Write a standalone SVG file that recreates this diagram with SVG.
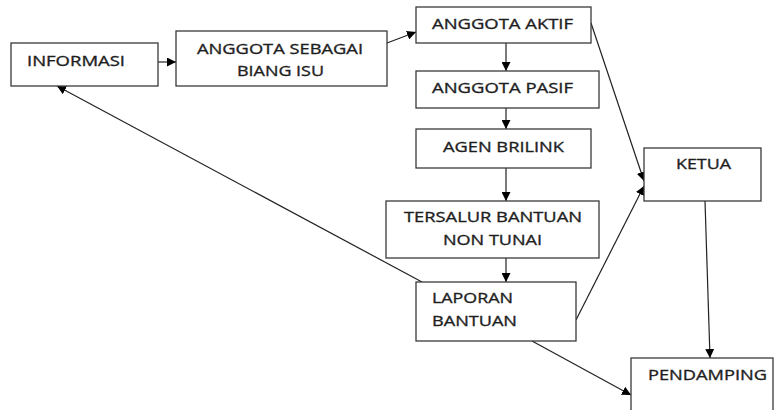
<svg xmlns="http://www.w3.org/2000/svg" width="777" height="410" viewBox="0 0 777 410">
<defs>
<marker id="ah" viewBox="0 0 10 10" refX="10" refY="5" markerWidth="9" markerHeight="9" markerUnits="userSpaceOnUse" orient="auto">
<path d="M0,0 L10,5 L0,10 z" fill="#000"/>
</marker>
</defs>
<style>
rect{fill:#fff;stroke:#3a3a3a;stroke-width:1.3}
text{font-family:"Open Sans","Liberation Sans",sans-serif;font-size:15px;fill:#1e1e1e;stroke:#1e1e1e;stroke-width:0.35}
#edges line{stroke:#222;stroke-width:1.2;marker-end:url(#ah)}
</style>
<rect x="0" y="0" width="777" height="410" style="fill:#fff;stroke:none"/>
<g id="edges">
<line x1="158" y1="62" x2="176" y2="62"/>
<line x1="387" y1="43" x2="416" y2="32"/>
<line x1="506" y1="43" x2="506" y2="71"/>
<line x1="506" y1="108" x2="506" y2="129"/>
<line x1="506" y1="168" x2="506" y2="201"/>
<line x1="506" y1="258" x2="506" y2="282"/>
<line x1="591" y1="23" x2="644" y2="181"/>
<line x1="576" y1="320" x2="644" y2="186"/>
<line x1="705" y1="201" x2="710" y2="358"/>
<line x1="532" y1="341" x2="631" y2="395"/>
<line x1="422" y1="282" x2="57" y2="86"/>
</g>
<g id="informasi"><rect x="11" y="43" width="147" height="43"/><text x="27" y="66" textLength="98" lengthAdjust="spacingAndGlyphs">INFORMASI</text></g>
<g id="anggota-sebagai"><rect x="176" y="31" width="211" height="55"/><text x="197" y="54" textLength="166" lengthAdjust="spacingAndGlyphs">ANGGOTA SEBAGAI</text><text x="237" y="76" textLength="87" lengthAdjust="spacingAndGlyphs">BIANG ISU</text></g>
<g id="anggota-aktif"><rect x="416" y="7" width="175" height="36"/><text x="432" y="29" textLength="141" lengthAdjust="spacingAndGlyphs">ANGGOTA AKTIF</text></g>
<g id="anggota-pasif"><rect x="416" y="71" width="183" height="37"/><text x="432" y="93" textLength="141" lengthAdjust="spacingAndGlyphs">ANGGOTA PASIF</text></g>
<g id="agen-brilink"><rect x="416" y="129" width="175" height="39"/><text x="443" y="152" textLength="121" lengthAdjust="spacingAndGlyphs">AGEN BRILINK</text></g>
<g id="tersalur"><rect x="386" y="201" width="213" height="57"/><text x="404" y="222" textLength="178" lengthAdjust="spacingAndGlyphs">TERSALUR BANTUAN</text><text x="443" y="245" textLength="99" lengthAdjust="spacingAndGlyphs">NON TUNAI</text></g>
<g id="laporan"><rect x="416" y="282" width="160" height="59"/><text x="432" y="303" textLength="81" lengthAdjust="spacingAndGlyphs">LAPORAN</text><text x="432" y="326" textLength="85" lengthAdjust="spacingAndGlyphs">BANTUAN</text></g>
<g id="ketua"><rect x="644" y="148" width="117" height="53"/><text x="676" y="169" textLength="55" lengthAdjust="spacingAndGlyphs">KETUA</text></g>
<g id="pendamping"><rect x="631" y="358" width="142" height="60"/><text x="648" y="380" textLength="119" lengthAdjust="spacingAndGlyphs">PENDAMPING</text></g>
</svg>
